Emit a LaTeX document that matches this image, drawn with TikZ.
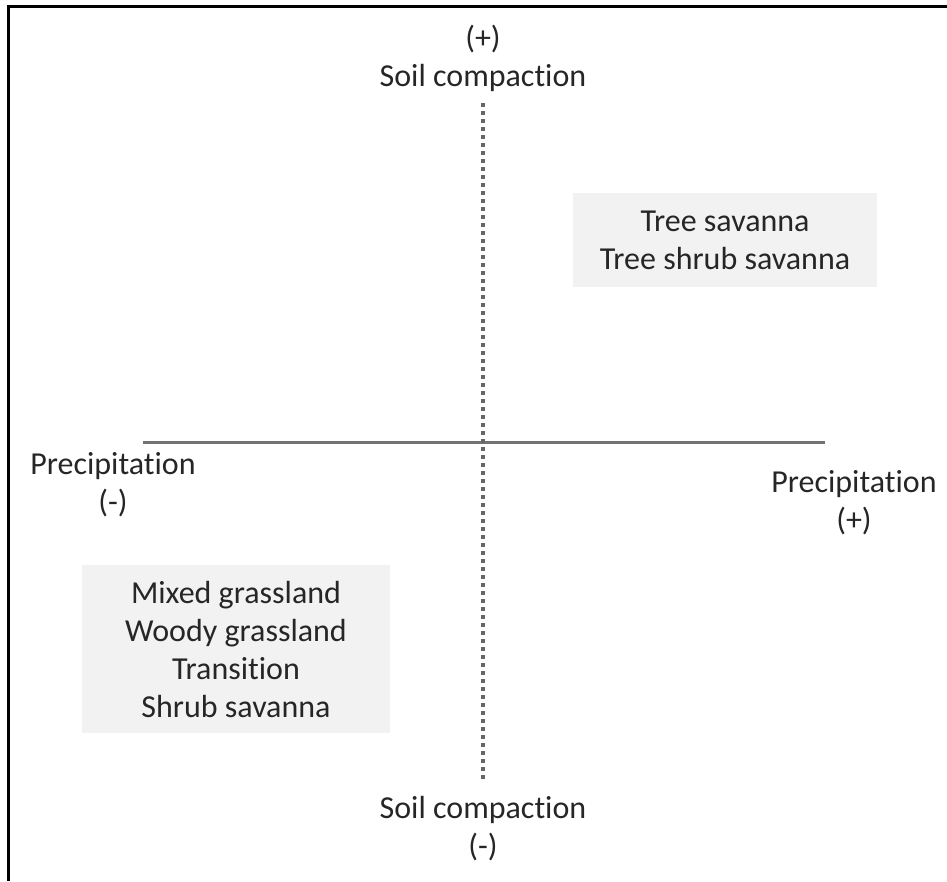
\documentclass[tikz,border=0pt]{standalone}
\usepackage{fontspec}
\setmainfont[Ligatures=NoCommon]{Carlito}
\usetikzlibrary{positioning}

\begin{document}
\begin{tikzpicture}[
    x=1pt, y=-1pt,
    every node/.style={font=\fontsize{32}{38}\selectfont, text=black!85, align=center, inner sep=0pt},
    zone/.style={fill=black!5, minimum width=#1, minimum height=94pt},
    axislbl/.style={},
    hax/.style={line width=3pt, draw=black!55},
    vax/.style={line width=3.5pt, draw=black!60, dash pattern=on 3.5pt off 4.5pt}
]
\useasboundingbox (0,0) rectangle (947,881);
\draw[line width=3pt] (8.5,881) |- (947,6.5);

% axes
\coordinate (top) at (483,103);
\coordinate (bot) at (483,783);
\coordinate (lft) at (143,442);
\coordinate (rgt) at (825,442);
\draw[hax] (lft) -- (rgt);
\draw[vax] (top) -- (bot);

% axis labels
\node[axislbl] (soilHi) at (483,58) {(+)\\Soil compaction};
\node[axislbl] (soilLo) at (483,829) {Soil compaction\\(-)};
\node[axislbl] (precLo) at (113,485) {Precipitation\\(-)};
\node[axislbl] (precHi) at (854,503) {Precipitation\\(+)};

% vegetation zones
\node[zone=304pt] (wet) at (725,240) {Tree savanna\\Tree shrub savanna};
\node[zone=308pt, minimum height=168pt] (dry) at (236,649) {Mixed grassland\\Woody grassland\\Transition\\Shrub savanna};
\end{tikzpicture}
\end{document}
